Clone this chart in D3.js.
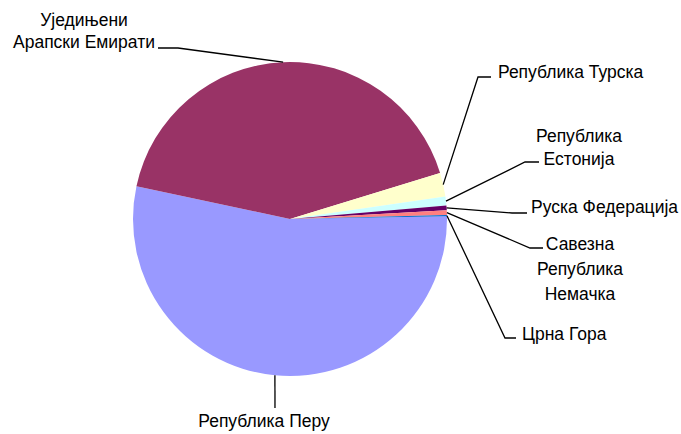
<!DOCTYPE html>
<html>
<head>
<meta charset="utf-8">
<script src="https://cdn.jsdelivr.net/npm/d3@7"></script>
<style>
  body { margin: 0; background: #fff; }
  text { font-family: "Liberation Sans", Arial, sans-serif; font-size: 17.5px; fill: #000; }
</style>
</head>
<body>
<div id="chart"></div>
<script>
// countries in Excel series order, shares in percent
var countries = ["Република Перу", "Уједињени Арапски Емирати", "Република Турска",
  "Република Естонија", "Руска Федерација", "Савезна Република Немачка", "Црна Гора"];
var shares = [53.6, 41.9, 2.45, 0.93, 0.46, 0.5, 0.12];
var colors = ["#9999ff", "#993366", "#ffffcc", "#ccffff", "#660066", "#ff8080", "#0066cc"];

// label text lines for each slice
var labelLines = [
  ["Република Перу"],
  ["Уједињени", "Арапски Емирати"],
  ["Република Турска"],
  ["Република", "Естонија"],
  ["Руска Федерација"],
  ["Савезна", "Република", "Немачка"],
  ["Црна Гора"]
];

// where each label sits: text x, first baseline, line step, anchor, leader elbow + end
var labelPos = [
  { x: 264, y: 427, dy: 0,  anchor: "middle", elbow: [275, 408], end: [275, 408] },
  { x: 84,  y: 26,  dy: 22, anchor: "middle", elbow: [178, 48],  end: [158, 48] },
  { x: 498, y: 78,  dy: 0,  anchor: "start",  elbow: [478, 77],  end: [491, 77] },
  { x: 579, y: 142, dy: 23, anchor: "middle", elbow: [525, 162], end: [539, 162] },
  { x: 531, y: 213, dy: 0,  anchor: "start",  elbow: [512, 213], end: [527, 213] },
  { x: 580, y: 250, dy: 25, anchor: "middle", elbow: [530, 248], end: [543, 248] },
  { x: 522, y: 340, dy: 0,  anchor: "start",  elbow: [505, 338], end: [516, 338] }
];

var width = 681, height = 434;
var cx = 290, cy = 219, r = 157;
var stretch = 1.08; // the original text is a little taller than Arial

var svg = d3.select("#chart").append("svg")
  .attr("width", width)
  .attr("height", height);

var data = countries.map(function(c, i) {
  return { name: c, value: shares[i], color: colors[i], lines: labelLines[i], pos: labelPos[i] };
});

var pie = d3.pie()
  .sort(null)
  .value(function(d) { return d.value; })
  .startAngle(89 * Math.PI / 180)
  .endAngle((89 + 360) * Math.PI / 180);

var arc = d3.arc().innerRadius(0).outerRadius(r);

var g = svg.append("g").attr("transform", "translate(" + cx + "," + cy + ")");

var arcs = pie(data);

g.selectAll("path.slice")
  .data(arcs)
  .enter().append("path")
  .attr("class", "slice")
  .attr("d", arc)
  .attr("fill", function(d) { return d.data.color; });

// leader lines start at the mid point of the slice edge
var line = d3.line();
svg.selectAll("path.leader")
  .data(arcs)
  .enter().append("path")
  .attr("class", "leader")
  .attr("fill", "none")
  .attr("stroke", "#000")
  .attr("stroke-width", 1.3)
  .attr("d", function(d) {
    var a = (d.startAngle + d.endAngle) / 2;
    var p0 = [cx + r * Math.sin(a), cy - r * Math.cos(a)];
    return line([p0, d.data.pos.elbow, d.data.pos.end]);
  });

var labels = svg.selectAll("text.lbl")
  .data(data)
  .enter().append("text")
  .attr("class", "lbl")
  .attr("text-anchor", function(d) { return d.pos.anchor; })
  .attr("transform", function(d) {
    return "translate(" + d.pos.x + "," + d.pos.y + ") scale(1," + stretch + ")";
  });

labels.selectAll("tspan")
  .data(function(d) { return d.lines.map(function(t, i) { return { t: t, i: i, p: d.pos }; }); })
  .enter().append("tspan")
  .attr("x", 0)
  .attr("y", function(d) { return d.i * d.p.dy / stretch; })
  .text(function(d) { return d.t; });
</script>
</body>
</html>
